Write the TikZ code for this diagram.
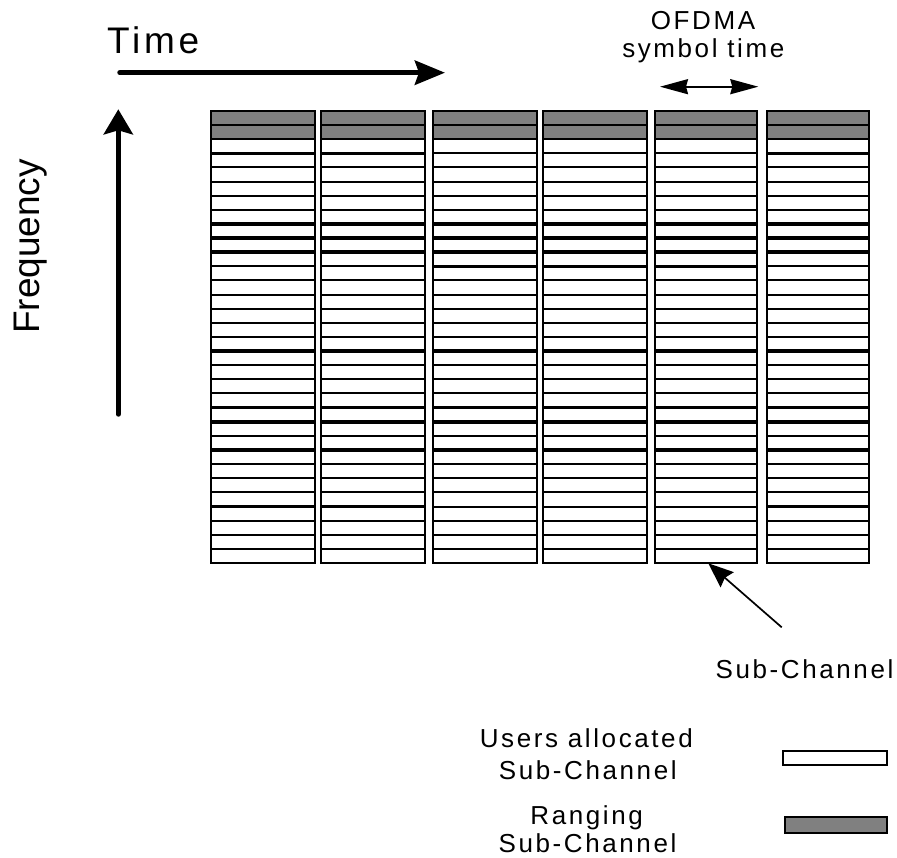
\documentclass[tikz,border=0pt]{standalone}
\usepackage{fontspec}
\setmainfont{Liberation Sans}
\newfontfamily\spacedfont[LetterSpace=10]{Liberation Sans}
\newfontfamily\timefont[LetterSpace=10]{Liberation Sans}
\usetikzlibrary{arrows.meta}
\definecolor{rng}{RGB}{128,128,128}
\tikzset{
  lbl/.style={inner sep=0pt, font=\spacedfont\fontsize{26}{30}\selectfont},
  thinln/.style={line width=2pt},
  thickln/.style={line width=3.7pt},
  outl/.style={line width=2.2pt},
  bigarrow/.style={line width=5.5pt, line cap=round},
}
\begin{document}
\begin{tikzpicture}[x=1pt,y=-1pt]
\useasboundingbox (0,0) rectangle (897,858);

% grid columns
\foreach \xl/\xr/\thk in {211/315/{3,8,9,10,17,21,22,24,28},
                          321/425/{3,8,9,10,17,21,22,24,28},
                          433/537/{8,9,10,11,17,21,22,24},
                          543/647/{8,9,10,11,17,21,22,24},
                          655/757/{8,9,10,11,17,21,22,24},
                          767/869/{3,8,9,10,17,21,22,24,28}} {
  \fill[rng] (\xl,111) rectangle (\xr,139.25);
  \foreach \k in {1,...,31} {
    \draw[thinln] (\xl,111+\k*14.125) -- (\xr,111+\k*14.125);
  }
  \foreach \k in \thk {
    \draw[thickln] (\xl,111+\k*14.125) -- (\xr,111+\k*14.125);
  }
  \draw[outl] (\xl,111) rectangle (\xr,562.75);
}

% axes
\coordinate (t0) at (120,72.7);
\coordinate (t1) at (445,72.7);
\draw[bigarrow,-{Stealth[length=30pt,width=24pt,inset=4pt]}] (t0) -- (t1);
\coordinate (f0) at (118.3,414);
\coordinate (f1) at (118.3,109.3);
\draw[bigarrow,-{Stealth[length=25pt,width=29pt,inset=4pt]}] (f0) -- (f1);

\node[anchor=base west, inner sep=0pt, font=\timefont\fontsize{37}{40}\selectfont] (time) at (107,53.3) {Time};
\node[anchor=base, rotate=90, inner sep=0pt, font=\fontsize{37}{40}\selectfont] (freq) at (39.3,246.5) {Frequency};

% OFDMA symbol time
\node[lbl, anchor=base] (ofdma) at (703,30) {OFDMA};
\node[lbl, anchor=base] (symt) at (703.3,58) {symbol time};
\coordinate (s0) at (660,86.7);
\coordinate (s1) at (758.3,86.7);
\draw[line width=2pt, {Stealth[length=28pt,width=15pt,inset=2pt]}-{Stealth[length=28pt,width=15pt,inset=2pt]}] (s0) -- (s1);

% sub-channel pointer
\node[lbl, anchor=base] (subch) at (804.5,678.3) {Sub-Channel};
\coordinate (p0) at (781.7,627.3);
\coordinate (p1) at (708.3,563.3);
\draw[line width=1.7pt, -{Stealth[length=25pt,width=20pt,inset=3pt]}] (p0) -- (p1);

% legend
\node[lbl, anchor=base] (lu1) at (586.3,747) {Users allocated};
\node[lbl, anchor=base] (lu2) at (587.8,779) {Sub-Channel};
\node[lbl, anchor=base] (lr1) at (586.7,824.5) {Ranging};
\node[lbl, anchor=base] (lr2) at (587.5,852.5) {Sub-Channel};
\draw[outl, fill=white] (782.7,750.7) rectangle (887.3,765);
\draw[outl, fill=rng] (784.7,816.7) rectangle (887.3,833.3);
\end{tikzpicture}
\end{document}
